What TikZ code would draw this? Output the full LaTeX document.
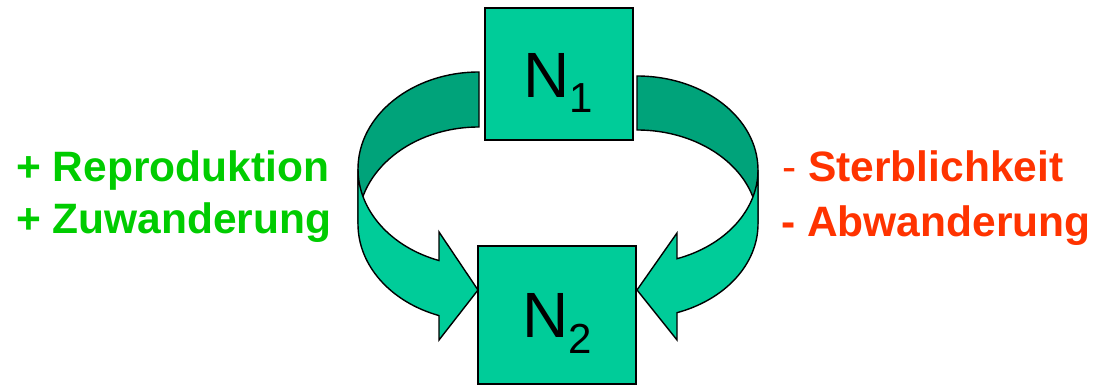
\documentclass[tikz,border=0pt]{standalone}
\usepackage{fontspec}
\setmainfont{Liberation Sans}
\definecolor{boxfill}{RGB}{0,204,153}
\definecolor{backfill}{RGB}{0,163,122}
\definecolor{plusgreen}{RGB}{0,204,0}
\definecolor{minusred}{RGB}{255,51,0}
\tikzset{
  frontpart/.style={draw=black, line width=1.4pt, fill=boxfill},
  backpart/.style={draw=black, line width=1.4pt, fill=backfill},
  popbox/.style={draw=black, line width=1.4pt, fill=boxfill, inner sep=0pt},
  biglabel/.style={anchor=base west, inner sep=0pt, text=black},
  factor/.style={anchor=base west, inner sep=0pt, font=\fontsize{42.5}{42.5}\selectfont\bfseries}
}
\begin{document}
\begin{tikzpicture}[x=1pt,y=1pt]
\useasboundingbox (0,0) rectangle (1095,385);
% left curved arrow
\draw[backpart] (479,313) arc[start angle=90,end angle=180,x radius=121,y radius=97]
  -- (358,161) arc[start angle=180,end angle=90,x radius=121,y radius=97] -- cycle;
\draw[frontpart] (358,216) arc[start angle=180,end angle=250.7,x radius=121,y radius=97]
  -- (439,153) -- (478,95) -- (439,45) -- (439,69.4)
  arc[start angle=250.7,end angle=180,x radius=121,y radius=97] -- cycle;
% right curved arrow
\draw[backpart] (637,309) arc[start angle=90,end angle=0,x radius=121,y radius=94]
  -- (758,161) arc[start angle=0,end angle=90,x radius=121,y radius=94] -- cycle;
\draw[frontpart] (758,215) arc[start angle=360,end angle=289.3,x radius=121,y radius=94]
  -- (677,152) -- (637,95) -- (677,45) -- (677,72.3)
  arc[start angle=289.3,end angle=360,x radius=121,y radius=94] -- cycle;
% population boxes
\node[popbox, minimum width=148pt, minimum height=132pt] (n1) at (559,311) {};
\node[popbox, minimum width=158pt, minimum height=138pt] (n2) at (557,70) {};
\node[biglabel] (n1lab) at (523,287) {\fontsize{64}{64}\selectfont N\raisebox{-15pt}{\fontsize{42}{42}\selectfont 1}};
\node[biglabel] (n2lab) at (522,47) {\fontsize{64}{64}\selectfont N\raisebox{-16pt}{\fontsize{42}{42}\selectfont 2}};
% factors
\node[factor, text=plusgreen] (repro) at (16,203) {+ Reproduktion};
\node[factor, text=plusgreen] (zuw) at (16,151) {+ Zuwanderung};
\node[factor, text=minusred] (sterb) at (782,203) {{\mdseries -} Sterblichkeit};
\node[factor, text=minusred] (abw) at (781,148) {- Abwanderung};
\end{tikzpicture}
\end{document}
